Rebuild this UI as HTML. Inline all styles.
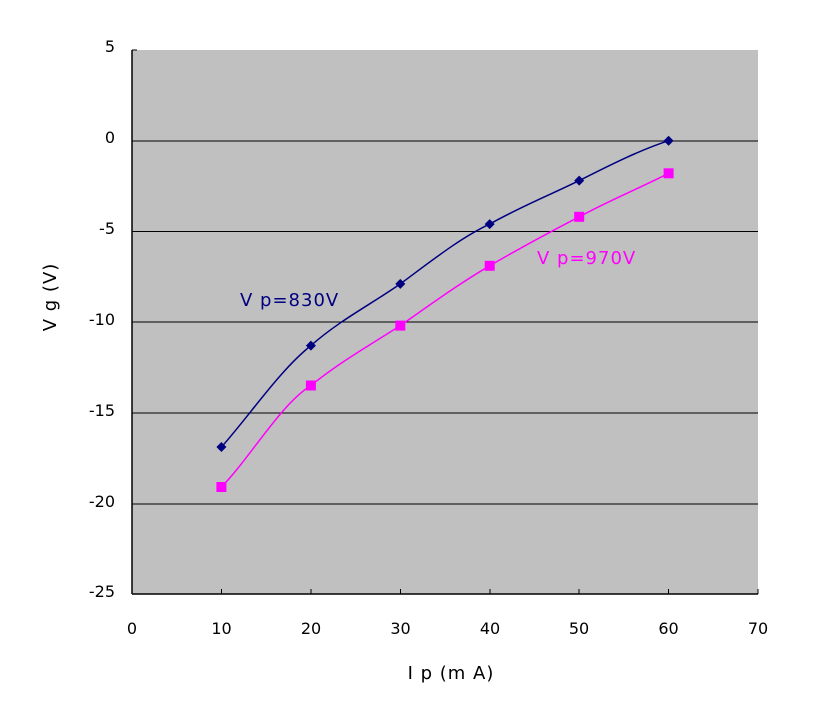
<!DOCTYPE html>
<html><head><style>body{margin:0;background:#fff}svg text{font-family:"DejaVu Sans","Liberation Sans",sans-serif}</style></head><body>
<svg width="815" height="710" xmlns="http://www.w3.org/2000/svg">
<rect x="132" y="50" width="626" height="544" fill="#c0c0c0"/>
<g stroke="#000" stroke-width="1">
<line x1="132" y1="141" x2="758" y2="141"/>
<line x1="132" y1="231.5" x2="758" y2="231.5"/>
<line x1="132" y1="322" x2="758" y2="322"/>
<line x1="132" y1="413" x2="758" y2="413"/>
<line x1="132" y1="504" x2="758" y2="504"/>
<line x1="132" y1="594" x2="758" y2="594" stroke-width="1.5"/>
<line x1="132" y1="50" x2="132" y2="594" stroke-width="1.5"/>
<line x1="132" y1="50" x2="137" y2="50"/>
<line x1="221.5" y1="594" x2="221.5" y2="589"/><line x1="311" y1="594" x2="311" y2="589"/><line x1="400.5" y1="594" x2="400.5" y2="589"/><line x1="490" y1="594" x2="490" y2="589"/><line x1="579" y1="594" x2="579" y2="589"/><line x1="668.5" y1="594" x2="668.5" y2="589"/><line x1="758" y1="594" x2="758" y2="589"/>
</g>
<g font-size="16" text-anchor="end" fill="#000">
<text x="115" y="52">5</text><text x="115" y="143">0</text><text x="115" y="234">-5</text><text x="115" y="325">-10</text><text x="115" y="416">-15</text><text x="115" y="507">-20</text><text x="115" y="597">-25</text>
</g>
<g font-size="16" text-anchor="middle" fill="#000">
<text x="132" y="634">0</text><text x="221.5" y="634">10</text><text x="311" y="634">20</text><text x="400.5" y="634">30</text><text x="490" y="634">40</text><text x="579" y="634">50</text><text x="668.5" y="634">60</text><text x="758" y="634">70</text>
<text x="451" y="679" font-size="18" letter-spacing="1">I p (m A)</text>
<text transform="translate(56,297) rotate(-90)" font-size="18" letter-spacing="1">V g (V)</text>
</g>
<path d="M221.4,447.1 C250,415 280,370 310.9,345.6 C340,320 370,305 400.3,283.9 C430,262 460,238 489.7,224.1 C520,207 550,195 579.2,180.6 C610,165 640,150 668.6,140.7" fill="none" stroke="#000080" stroke-width="1.5"/>
<path d="M221.4,487 C250,458 280,405 310.9,385.5 C340,362 370,345 400.3,325.6 C430,305 460,283 489.7,265.8 C520,248 550,232 579.2,216.8 C610,200 640,188 668.6,173.3" fill="none" stroke="#ff00ff" stroke-width="1.5"/>
<g fill="#000080">
<path d="M221.4,442 l5,5 -5,5 -5,-5z"/><path d="M310.9,340.6 l5,5 -5,5 -5,-5z"/><path d="M400.3,278.9 l5,5 -5,5 -5,-5z"/><path d="M489.7,219.1 l5,5 -5,5 -5,-5z"/><path d="M579.2,175.6 l5,5 -5,5 -5,-5z"/><path d="M668.6,135.7 l5,5 -5,5 -5,-5z"/>
</g>
<g fill="#ff00ff">
<rect x="216.4" y="482" width="10" height="10"/><rect x="305.9" y="380.5" width="10" height="10"/><rect x="395.3" y="320.6" width="10" height="10"/><rect x="484.7" y="260.8" width="10" height="10"/><rect x="574.2" y="211.8" width="10" height="10"/><rect x="663.6" y="168.3" width="10" height="10"/>
</g>
<text x="240" y="306" font-size="18" fill="#000080" letter-spacing="1">V p=830V</text>
<text x="537" y="264" font-size="18" fill="#ff00ff" letter-spacing="1">V p=970V</text>
</svg>
</body></html>
